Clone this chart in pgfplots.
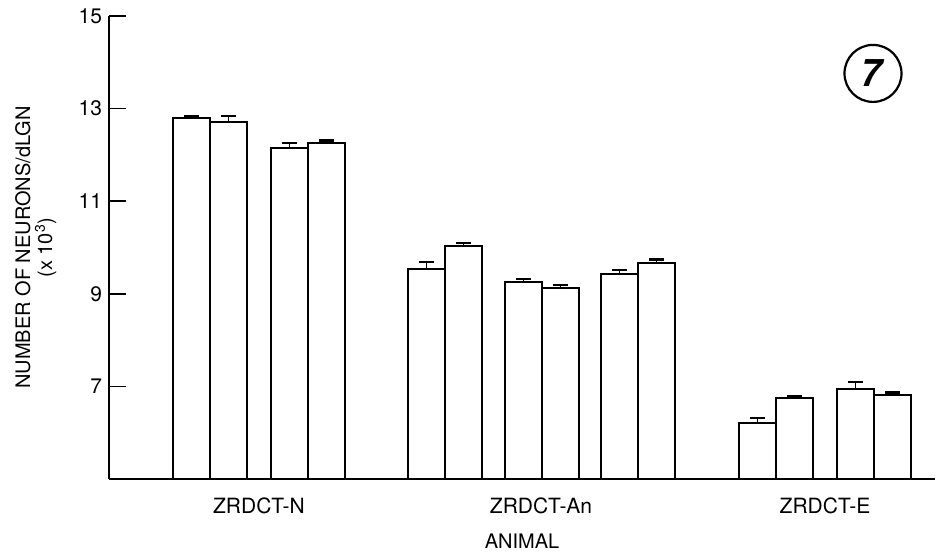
\documentclass[border=0pt]{standalone}
\usepackage{fontspec}
\setmainfont{TeX Gyre Heros}
\usepackage{pgfplots}
\pgfplotsset{compat=1.18}

\begin{document}
\begin{tikzpicture}
% keep the page at the proportions of the reference (1px = 0.5pt)
\useasboundingbox (-54.5pt,-38.5pt) rectangle (414.5pt,239.5pt);
\begin{axis}[
  scale only axis,
  width=413pt, height=231.5pt,
  xmin=0, xmax=826,
  ymin=5, ymax=15,
  axis x line*=bottom, axis y line*=left,
  axis line style={line width=0.8pt},
  ytick={7,9,11,13,15},
  tick align=inside,
  major tick length=8.5pt,
  tick style={line width=0.8pt, black},
  xtick={150,432,716},
  xticklabels={ZRDCT-N, ZRDCT-An, ZRDCT-E},
  x tick style={draw=none},
  xticklabel style={yshift=-6pt},
  /pgf/number format/assume math mode=true,
  tick label style={font=\fontsize{10.5}{12}\selectfont},
  label style={font=\fontsize{10}{11}\selectfont},
  xlabel={ANIMAL},
  xlabel style={at={(axis description cs:0.5,0)}, anchor=north, yshift=-24pt},
  ylabel={NUMBER OF NEURONS/dLGN\\(x 10\textsuperscript{3})},
  ylabel style={align=center, at={(axis description cs:-0.122,0.5)}, anchor=north},
]
% one bar per animal side, error bars (SE) upward only
\addplot[ybar, bar width=37, draw=black, fill=white, line width=0.9pt,
         error bars/.cd, y dir=plus, y explicit,
         error bar style={line width=0.9pt},
         error mark options={rotate=90, line width=1.1pt, mark size=3.7pt}]
  coordinates {
    (82.5,12.80)  +- (0,0.03)
    (119.5,12.71) +- (0,0.13)
    (180.5,12.15) +- (0,0.11)
    (217.5,12.26) +- (0,0.05)
    (317.5,9.54)  +- (0,0.15)
    (354.5,10.03) +- (0,0.07)
    (414.5,9.25)  +- (0,0.07)
    (451.5,9.12)  +- (0,0.07)
    (510.5,9.43)  +- (0,0.08)
    (547.5,9.67)  +- (0,0.07)
    (648.5,6.21)  +- (0,0.10)
    (685.5,6.75)  +- (0,0.03)
    (746.5,6.94)  +- (0,0.15)
    (783.5,6.81)  +- (0,0.06)
  };
\coordinate (seven) at (axis cs:764,13.76);
\end{axis}
\node[draw, circle, line width=1.1pt, minimum size=28.5pt, inner sep=0pt,
      font=\fontsize{19}{19}\selectfont\bfseries] at (seven) {\textsl{7}};
\end{tikzpicture}
\end{document}
